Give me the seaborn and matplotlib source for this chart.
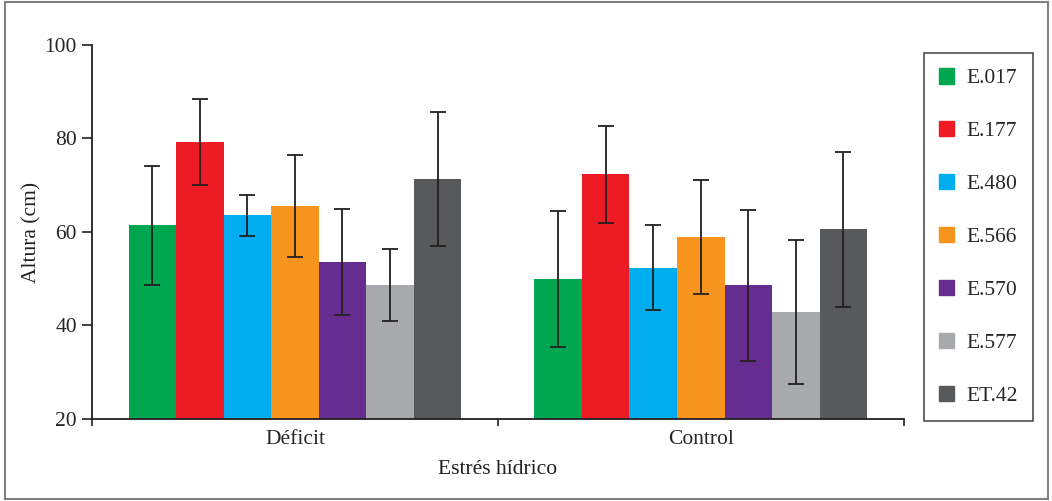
# ==========================================================
# Altura por genotipo bajo estrés hídrico (barras agrupadas)
# ==========================================================

import numpy as np
import pandas as pd
import matplotlib
matplotlib.use("Agg")
import matplotlib.pyplot as plt
import seaborn as sns
from matplotlib.patches import Rectangle

# ==========================================================
# Data
# ==========================================================

tratamientos = ["Déficit", "Control"]
genotipos = ["E.017", "E.177", "E.480", "E.566", "E.570", "E.577", "ET.42"]

altura_deficit = [61.4, 79.3, 63.6, 65.6, 53.6, 48.6, 71.4]
altura_control = [49.9, 72.3, 52.4, 59.0, 48.6, 42.8, 60.6]

de_deficit = [12.8, 9.2, 4.4, 10.9, 11.3, 7.7, 14.3]
de_control = [14.5, 10.3, 9.0, 12.2, 16.2, 15.4, 16.6]

colores = ["#00A650", "#ED1C24", "#00AEEF", "#F7941D",
           "#662D91", "#A7A9AC", "#58595B"]

y_ticks = [20, 40, 60, 80, 100]

df = pd.DataFrame({
    "Estrés hídrico": ["Déficit"] * 7 + ["Control"] * 7,
    "Genotipo": genotipos * 2,
    "Altura (cm)": altura_deficit + altura_control,
    "DE": de_deficit + de_control,
})

# ==========================================================
# Plot
# ==========================================================

sns.set_style("white")
plt.rcParams["font.family"] = ["Liberation Serif", "DejaVu Serif"]
plt.rcParams["font.size"] = 15.5

fig = plt.figure(figsize=(10.52, 5.01), dpi=100)
ax = fig.add_axes([0.0875, 0.1637, 0.7715, 0.7465])

sns.barplot(
    data=df,
    x="Estrés hídrico",
    y="Altura (cm)",
    hue="Genotipo",
    order=tratamientos,
    hue_order=genotipos,
    palette=colores,
    width=0.82,
    errorbar=None,
    linewidth=0,
    saturation=1,
    ax=ax,
)

# error bars at the centre of every bar
for i, gen in enumerate(genotipos):
    container = ax.containers[i]
    sub = df[df["Genotipo"] == gen].set_index("Estrés hídrico").loc[tratamientos]
    xs = [p.get_x() + p.get_width() / 2 for p in container.patches]
    ax.errorbar(xs, sub["Altura (cm)"], yerr=sub["DE"], fmt="none",
                ecolor="#231F20", elinewidth=1.3, capsize=5.5, capthick=1.3,
                zorder=5)

ax.set_ylim(20, 100)
ax.set_yticks(y_ticks)
ax.set_xlim(-0.5, 1.5)

# ticks between categories, labels at the centre
ax.set_xticks([-0.5, 0.5, 1.5])
ax.set_xticklabels([])
ax.set_xticks([0, 1], labels=tratamientos, minor=True)
ax.tick_params(axis="x", which="major", direction="out", length=5,
               width=1.2, color="#231F20", bottom=True)
ax.tick_params(axis="x", which="minor", length=0, pad=8)
ax.tick_params(axis="y", direction="out", length=7, width=1.2,
               color="#231F20", left=True, pad=4)

for s in ["top", "right"]:
    ax.spines[s].set_visible(False)
for s in ["left", "bottom"]:
    ax.spines[s].set_color("#231F20")
    ax.spines[s].set_linewidth(1.3)

ax.set_xlabel("Estrés hídrico", labelpad=8, color="#231F20")
ax.set_ylabel("Altura (cm)", labelpad=2, color="#231F20")

# legend
ax.get_legend().remove()
handles = [Rectangle((0, 0), 1, 1, color=c) for c in colores]
leg = fig.legend(handles, genotipos, loc="upper left",
                 bbox_to_anchor=(0.878, 0.894), borderaxespad=0,
                 fancybox=False, edgecolor="#231F20", handlelength=0.72,
                 handleheight=0.72, labelspacing=1.52, borderpad=0.7,
                 handletextpad=0.55, frameon=True)
leg.get_frame().set_linewidth(1.2)

# outer border of the figure
fig.patches.append(Rectangle((0.005, 0.004), 0.991, 0.992,
                             transform=fig.transFigure, fill=False,
                             edgecolor="#808080", linewidth=1.5))

plt.savefig("out.png", dpi=100)
